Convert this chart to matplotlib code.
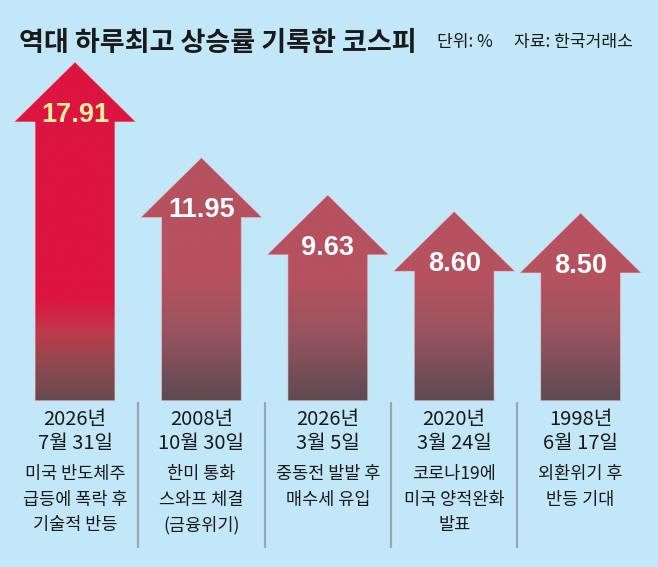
import numpy as np
import matplotlib
matplotlib.use('Agg')
import matplotlib.pyplot as plt
from matplotlib.patches import Polygon
from matplotlib.colors import to_rgb
import matplotlib.transforms as mtransforms

plt.rcParams['font.family'] = ['Noto Sans CJK KR', 'DejaVu Sans']

# 데이터
values = [17.91, 11.95, 9.63, 8.60, 8.50]
value_labels = ['17.91', '11.95', '9.63', '8.60', '8.50']
years = ['2026년', '2008년', '2026년', '2020년', '1998년']
dates = ['7월 31일', '10월 30일', '3월 5일', '3월 24일', '6월 17일']
descs = [['미국 반도체주', '급등에 폭락 후', '기술적 반등'],
         ['한미 통화', '스와프 체결', '(금융위기)'],
         ['중동전 발발 후', '매수세 유입'],
         ['코로나19에', '미국 양적완화', '발표'],
         ['외환위기 후', '반등 기대']]
title = '역대 하루최고 상승률 기록한 코스피'
unit = '단위: %'
source = '자료: 한국거래소'

bg = '#c2e7f8'
W, H = 658, 567

# 축 스케일 (픽셀 기준 맞춤)
px_x, x0_px = 126.4, 75.0
px_y, zero_px = 16.05, 349.4
xmin = -x0_px / px_x
xmax = xmin + W / px_x
ytop = zero_px / px_y
ybot = -(H - zero_px) / px_y

base = -3.2
head_h = 3.74
shaft_hw = 0.316
head_hw = 0.482

# 그라데이션 색 (y값 기준)
red_stops = [(-3.2, '#674a51'), (-0.66, '#95484f'), (1.21, '#c0394a'), (3.08, '#dc143f'), (30, '#dc143f')]
mauve_stops = [(-3.2, '#5d4a51'), (1.21, '#9a5460'), (4.32, '#b6515f'), (30, '#b6515f')]


def gradient(stops, ys):
    sy = [s[0] for s in stops]
    cols = np.array([to_rgb(s[1]) for s in stops])
    out = np.zeros((len(ys), 3))
    for c in range(3):
        out[:, c] = np.interp(ys, sy, cols[:, c])
    return out


fig = plt.figure(figsize=(W / 100, H / 100), dpi=100)
fig.patch.set_facecolor(bg)
ax = fig.add_axes([0, 0, 1, 1])
ax.set_facecolor(bg)
ax.set_xlim(xmin, xmax)
ax.set_ylim(ybot, ytop)
ax.axis('off')

for i, v in enumerate(values):
    hb = v - head_h
    pts = [(i - shaft_hw, base), (i - shaft_hw, hb), (i - head_hw, hb), (i, v),
           (i + head_hw, hb), (i + shaft_hw, hb), (i + shaft_hw, base)]
    poly = Polygon(pts, closed=True, facecolor='none', edgecolor='none')
    ax.add_patch(poly)
    ys = np.linspace(base, v, 400)
    stops = red_stops if i == 0 else mauve_stops
    img = gradient(stops, ys)[:, None, :]
    im = ax.imshow(img, extent=[i - head_hw, i + head_hw, base, v], origin='lower',
                   aspect='auto', interpolation='bilinear', zorder=2)
    im.set_clip_path(poly)
    edge = Polygon(pts, closed=True, facecolor='none', edgecolor='#f0d6dc',
                   linewidth=0.7, alpha=0.6, zorder=3)
    ax.add_patch(edge)
    ax.text(i, hb + 0.02, value_labels[i], ha='center', va='baseline',
            fontsize=19.5, fontweight='bold', family='Liberation Sans',
            color='#fff0a0' if i == 0 else 'white', zorder=4)

trans = mtransforms.blended_transform_factory(ax.transData, ax.transAxes)


def fy(p):
    return 1 - p / H


for i in range(len(values)):
    ax.text(i, fy(419), years[i], transform=trans, ha='center', va='center',
            fontsize=14.5, color='#1a1a1a')
    ax.text(i, fy(444), dates[i], transform=trans, ha='center', va='center',
            fontsize=14.5, color='#1a1a1a')
    for k, line in enumerate(descs[i]):
        ax.text(i, fy(474 + 25.5 * k), line, transform=trans, ha='center', va='center',
                fontsize=12.6, color='#1a1a1a')

for i in range(len(values) - 1):
    ax.plot([i + 0.5, i + 0.5], [fy(402), fy(548)], transform=trans,
            color='#98a7b1', linewidth=1.6, solid_capstyle='butt')

fig.text(19 / W, fy(43), title, ha='left', va='center', fontsize=19.5,
         fontweight='bold', color='#1a1a1a')
fig.text(437 / W, fy(42), unit, ha='left', va='center', fontsize=12.3, color='#1a1a1a')
fig.text(514 / W, fy(42), source, ha='left', va='center', fontsize=12.3, color='#1a1a1a')

fig.savefig('out.png', dpi=100, facecolor=bg)
